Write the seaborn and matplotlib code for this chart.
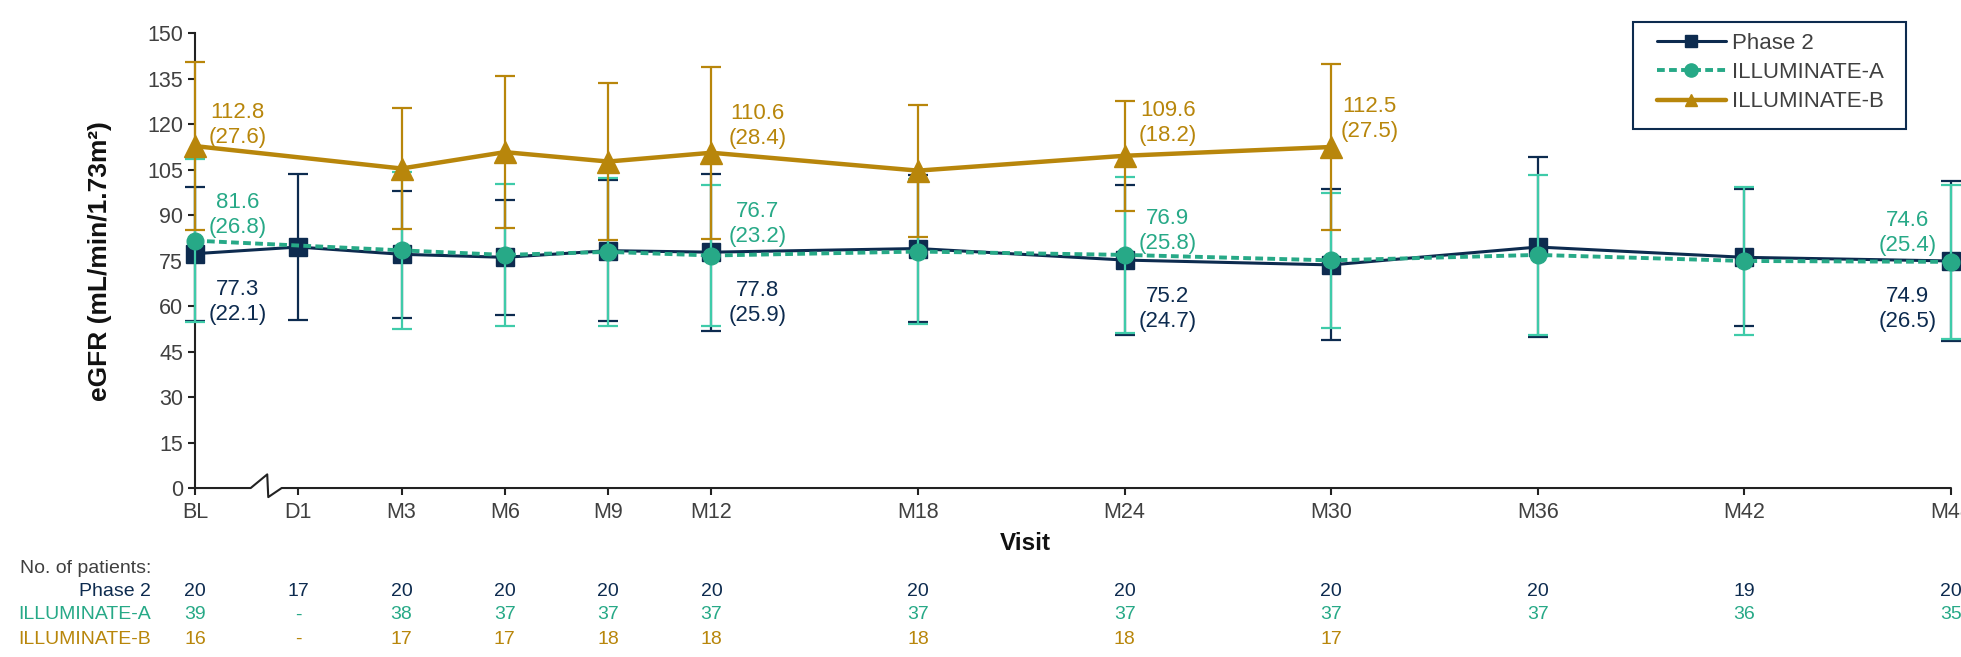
import numpy as np
import matplotlib
matplotlib.use("Agg")
import matplotlib.pyplot as plt
import matplotlib.transforms as mtransforms
from matplotlib.patches import Rectangle
import seaborn as sns

# Visits and their spacing on the time axis (one unit = 3 months up to M12, then 6 months)
visits = ["BL", "D1", "M3", "M6", "M9", "M12", "M18", "M24", "M30", "M36", "M42", "M48"]
visit_pos = [0, 1, 2, 3, 4, 5, 7, 9, 11, 13, 15, 17]

nan = np.nan
phase2_mean = [77.3, 79.5, 77.1, 76.1, 78.3, 77.8, 79.0, 75.2, 73.6, 79.5, 76.1, 74.9]
phase2_sd = [22.1, 24.2, 20.9, 19.0, 23.2, 25.9, 24.1, 24.7, 24.9, 29.7, 22.6, 26.5]
illa_mean = [81.6, nan, 78.4, 76.9, 77.9, 76.7, 78.0, 76.9, 75.1, 76.9, 74.9, 74.6]
illa_sd = [26.8, nan, 25.8, 23.3, 24.3, 23.2, 23.8, 25.8, 22.2, 26.3, 24.5, 25.4]
illb_mean = [112.8, nan, 105.4, 110.8, 107.7, 110.6, 104.7, 109.6, 112.5, nan, nan, nan]
illb_sd = [27.6, nan, 20.1, 25.1, 26.0, 28.4, 21.8, 18.2, 27.5, nan, nan, nan]

n_phase2 = ["20", "17", "20", "20", "20", "20", "20", "20", "20", "20", "19", "20"]
n_illa = ["39", "-", "38", "37", "37", "37", "37", "37", "37", "37", "36", "35"]
n_illb = ["16", "-", "17", "17", "18", "18", "18", "18", "17", "", "", ""]

# Visits whose mean (SD) is printed next to the marker, with the text offset in points
phase2_labels = {"BL": (30.5, -35), "M12": (33, -36.4), "M24": (31, -35.5), "M48": (-31.5, -34.5)}
illa_labels = {"BL": (30.5, 18.4), "M12": (33, 22.8), "M24": (31, 17.3), "M48": (-31.5, 21)}
illb_labels = {"BL": (30.5, 15.3), "M12": (33, 19.4), "M24": (31, 23.3), "M30": (27.4, 20.2)}

NAVY = "#0D2B4F"
TEAL = "#27A987"
TEAL_BAR = "#3FCBA9"
GOLD = "#B8860B"
GREY = "#404040"

sns.set_style("ticks")
plt.rcParams["font.family"] = ["Liberation Sans", "DejaVu Sans"]

fig = plt.figure(figsize=(19.61, 6.57), dpi=100)
ax = fig.add_axes([0.0994, 0.2572, 0.8955, 0.6921])

series = [
    dict(name="Phase 2", mean=phase2_mean, sd=phase2_sd, color=NAVY, bar=NAVY,
         marker="s", ms=13, lms=8, lw=2.2, ls="-", labels=phase2_labels),
    dict(name="ILLUMINATE-A", mean=illa_mean, sd=illa_sd, color=TEAL, bar=TEAL_BAR,
         marker="o", ms=12, lms=9.5, lw=2.8, ls=(0, (2.0, 1.1)), labels=illa_labels),
    dict(name="ILLUMINATE-B", mean=illb_mean, sd=illb_sd, color=GOLD, bar=GOLD,
         marker="^", ms=16, lms=8.5, lw=3.2, ls="-", labels=illb_labels),
]

for k, s in enumerate(series):
    x = np.array(visit_pos, dtype=float)
    m = np.array(s["mean"], dtype=float)
    sd = np.array(s["sd"], dtype=float)
    ok = ~np.isnan(m)
    z = 2 + 2 * k
    eb = ax.errorbar(x[ok], m[ok], yerr=sd[ok], fmt="none", ecolor=s["bar"],
                     elinewidth=1.6, capsize=7, capthick=1.6, zorder=z,
                     label="_nolegend_")
    for art in eb.get_children():
        art.set_clip_on(False)
    sns.lineplot(x=x[ok], y=m[ok], ax=ax, color=s["color"], marker=s["marker"],
                 markersize=s["ms"], markeredgecolor=s["color"], markeredgewidth=1,
                 linewidth=s["lw"], linestyle=s["ls"], errorbar=None,
                 label=s["name"], zorder=z + 1, clip_on=False)
    for vis, (dx, dy) in s["labels"].items():
        i = visits.index(vis)
        ax.annotate(f"{m[i]:.1f}\n({sd[i]:.1f})", xy=(visit_pos[i], m[i]),
                    xytext=(dx, dy), textcoords="offset points",
                    ha="center", va="center", fontsize=16, color=s["color"],
                    linespacing=1.25, zorder=10, annotation_clip=False)

ax.set_xlim(0, 17)
ax.set_ylim(0, 150)
ax.set_yticks(np.arange(0, 151, 15))
ax.set_xticks(visit_pos)
ax.set_xticklabels(visits)
ax.tick_params(axis="both", labelsize=15.5, labelcolor=GREY, color="#222222",
               width=1.5, length=5, direction="out")
ax.tick_params(axis="x", pad=5)

for side in ["top", "right", "bottom"]:
    ax.spines[side].set_visible(False)
ax.spines["left"].set_color("#222222")
ax.spines["left"].set_linewidth(1.5)

# x axis line with a break between BL and D1
brk = mtransforms.blended_transform_factory(ax.transData, ax.transAxes)
ax.plot([0, 0.54, 0.70, 0.71, 0.84, 17], [0, 0, 0.030, -0.020, 0, 0],
        transform=brk, color="#222222", lw=1.5, clip_on=False, zorder=1)

ax.set_ylabel("eGFR (mL/min/1.73m²)", fontsize=19, fontweight="bold", color="#111111")
ax.yaxis.set_label_coords(-0.054, 0.5)
ax.yaxis.label.set_va("center")
ax.set_xlabel("Visit", fontsize=17.5, fontweight="bold", color="#111111")
ax.xaxis.set_label_coords(0.473, -0.121)
ax.xaxis.label.set_va("center")

# Legend: entries without frame, boxed by a separate rectangle
box = Rectangle((0.8327, 0.8037), 0.1393, 0.1633, transform=fig.transFigure,
                facecolor="white", edgecolor=NAVY, linewidth=1.5, zorder=9,
                clip_on=False)
ax.add_patch(box)
handles, labels = ax.get_legend_handles_labels()
leg = ax.legend(handles, labels, loc="upper left", bbox_to_anchor=(0.8448, 0.9500),
                bbox_transform=fig.transFigure, frameon=False, fontsize=16,
                handlelength=3.1, labelspacing=0.37, handletextpad=0.3,
                borderpad=0, borderaxespad=0, numpoints=1)
leg.set_zorder(11)
for h, s in zip(leg.legend_handles, series):
    h.set_markersize(s["lms"])
for t in leg.get_texts():
    t.set_color(GREY)

# Number of patients at each visit
tab = mtransforms.blended_transform_factory(ax.transData, fig.transFigure)
rows = [("Phase 2", n_phase2, NAVY, 0.099),
        ("ILLUMINATE-A", n_illa, TEAL, 0.064),
        ("ILLUMINATE-B", n_illb, GOLD, 0.027)]
fig.text(0.077, 0.134, "No. of patients:", ha="right", va="center",
         fontsize=14, color=GREY)
for name, counts, col, yy in rows:
    fig.text(0.077, yy, name, ha="right", va="center", fontsize=14, color=col)
    for p, c in zip(visit_pos, counts):
        ax.text(p, yy, c, transform=tab, ha="center", va="center",
                fontsize=14, color=col, clip_on=False)

fig.savefig("out.png", dpi=100)
